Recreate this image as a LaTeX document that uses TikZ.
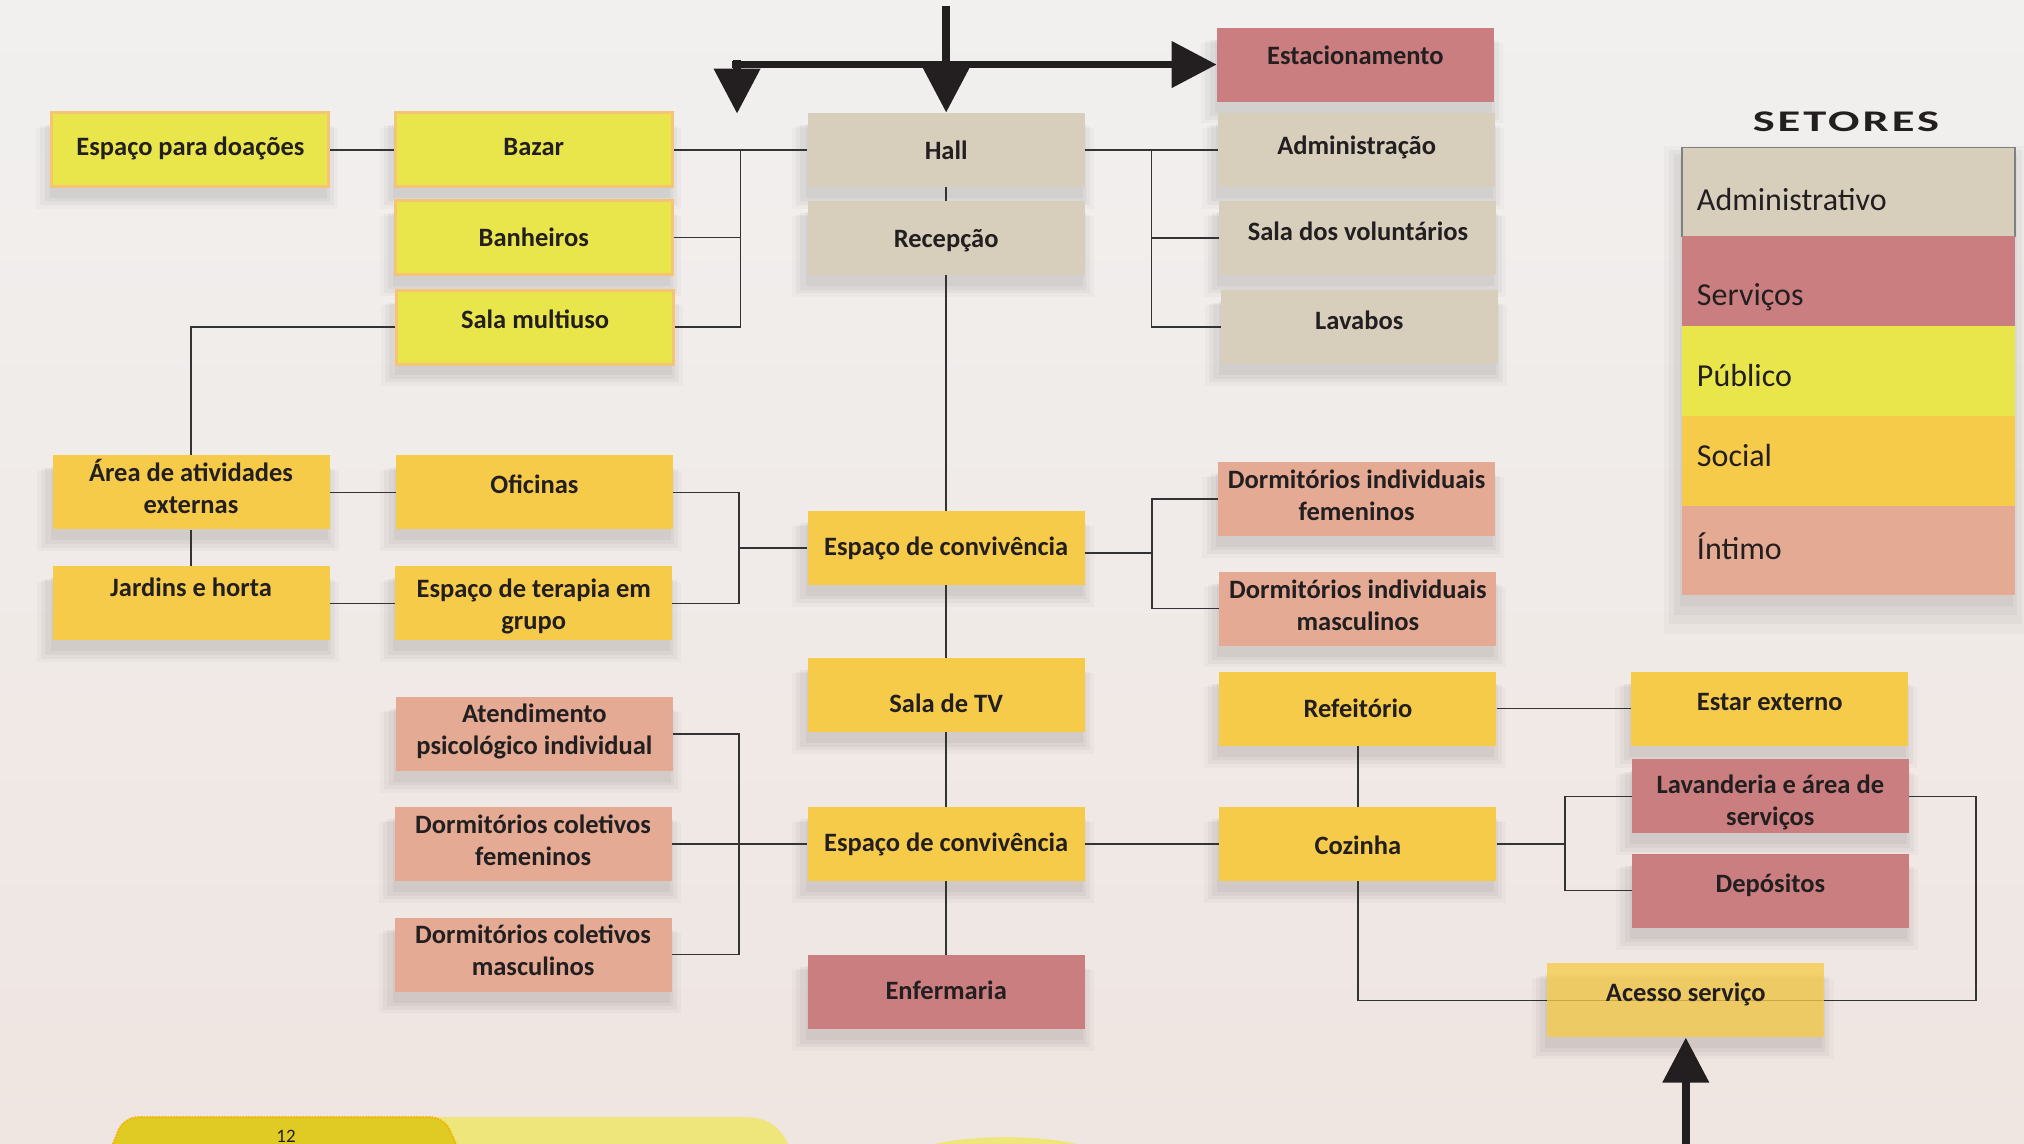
\documentclass[tikz,border=0pt]{standalone}
\usepackage{fontspec}
\setmainfont{Carlito}
\newfontfamily\titfont[FakeStretch=1.55,LetterSpace=10]{Carlito}
\usetikzlibrary{calc,arrows.meta,shadows}

\definecolor{fundoA}{HTML}{F1F0EF}
\definecolor{fundoB}{HTML}{EFE5E1}
\definecolor{corAdm}{HTML}{D7CEBC}
\definecolor{corServ}{HTML}{CB7E7F}
\definecolor{corPub}{HTML}{E9E64C}
\definecolor{corPubBorda}{HTML}{F5C477}
\definecolor{corSoc}{HTML}{F7CB4A}
\definecolor{corInt}{HTML}{E4AA94}
\definecolor{texto}{HTML}{231F20}
\definecolor{linha}{HTML}{333333}
\definecolor{corAmarB}{HTML}{E0CA24}
\definecolor{corAmarC}{HTML}{EEE67A}
\definecolor{corLaranja}{HTML}{F2B705}

\tikzset{
  sombra/.style={
    general shadow={fill=black,opacity=.025,shadow xshift=-3pt,shadow yshift=-17pt,shadow scale=1.09},
    general shadow={fill=black,opacity=.03,shadow xshift=-3pt,shadow yshift=-15pt,shadow scale=1.06},
    general shadow={fill=black,opacity=.035,shadow xshift=-3pt,shadow yshift=-13pt,shadow scale=1.03},
    general shadow={fill=black,opacity=.035,shadow xshift=-2pt,shadow yshift=-11pt}},
  caixa/.style={rectangle,minimum width=277pt,minimum height=74pt,inner sep=2pt,
    text=texto,font=\bfseries\fontsize{26.5}{32}\selectfont,align=center,sombra},
  um/.style={text height=19.6pt,text depth=1pt},
  sobe/.style={text height=19.6pt,text depth=#1},
  desce/.style={text height=#1,text depth=1pt},
  duas/.style={text height=49pt,text depth=#1},
  duasdesce/.style={text height=#1,text depth=1pt},
  administrativo/.style={fill=corAdm},
  servicos/.style={fill=corServ},
  publico/.style={fill=corPub,draw=corPubBorda,line width=3pt},
  social/.style={fill=corSoc},
  intimo/.style={fill=corInt},
  liga/.style={draw=linha,line width=1.6pt},
  haste/.style={draw=texto,line width=7.5pt,-{Triangle[width=45pt,length=45pt]}},
  legtexto/.style={anchor=base west,inner sep=0pt,text=texto,font=\fontsize{32}{34}\selectfont}
}

\begin{document}
\begin{tikzpicture}[x=1.2908pt,y=-1.2908pt]
\clip (0,0) rectangle (1568,886);
\shade[top color=fundoA,bottom color=fundoB] (0,0) rectangle (1568,886);

% legenda
\node[anchor=base,text=texto,font=\titfont\bfseries\fontsize{30}{32}\selectfont] (setores) at (1430,102) {SETORES};
\path[fill=corInt,sombra] (1303,114) rectangle (1561,461);
\filldraw[fill=corAdm,draw=gray,line width=1.2pt] (1303,114) rectangle (1561,183);
\fill[corServ] (1303,183) rectangle (1561,252.5);
\fill[corPub] (1303,252.5) rectangle (1561,322);
\fill[corSoc] (1303,322) rectangle (1561,392);
\fill[corInt] (1303,392) rectangle (1561,461);
\node[legtexto] (lAdm) at (1314.5,163.2) {Administrativo};
\node[legtexto] (lServ) at (1314.5,236.3) {Serviços};
\node[legtexto] (lPub) at (1314.5,299.6) {Público};
\node[legtexto] (lSoc) at (1314.5,361.5) {Social};
\node[legtexto] (lInt) at (1314.5,433.8) {Íntimo};

% rodape
\fill[corAmarC] (330,890) -- (330,865.5) -- (578,865.5) .. controls (597,865.5) and (607,876) .. (612,890) -- cycle;
\filldraw[fill=corAmarB,draw=corLaranja,densely dotted,line width=2pt,rounded corners=14pt] (84,895) -- (96,865.5) -- (344,865.5) -- (357,895);
\node[anchor=base,text=texto,font=\fontsize{19}{20}\selectfont] (pagina) at (221.6,885) {12};
\fill[corAmarC] (779,897) ellipse [x radius=74,y radius=16];

% salas
\node[caixa,publico,sobe=8.7pt] (doacoes) at (147.5,116) {Espaço para doações};
\node[caixa,publico,sobe=8.7pt] (bazar) at (413.5,116) {Bazar};
\node[caixa,publico,um] (banheiros) at (413.5,184) {Banheiros};
\node[caixa,publico,sobe=17.8pt] (multiuso) at (414.5,253.5) {Sala multiuso};
\node[caixa,administrativo,um] (hall) at (733,116) {Hall};
\node[caixa,administrativo,um] (recepcao) at (733,184.5) {Recepção};
\node[caixa,servicos,sobe=19pt] (estac) at (1050,50) {Estacionamento};
\node[caixa,administrativo,sobe=10pt] (admin) at (1051,116) {Administração};
\node[caixa,administrativo,sobe=15.2pt] (volunt) at (1052,184.5) {Sala dos voluntários};
\node[caixa,administrativo,sobe=15.2pt] (lavabos) at (1053,253.5) {Lavabos};
\node[caixa,social,duas=6.2pt] (area) at (148,381.5) {Área de atividades\\externas};
\node[caixa,social,sobe=17.8pt] (oficinas) at (414,381.5) {Oficinas};
\node[caixa,social,sobe=33pt] (jardins) at (148,467.5) {Jardins e horta};
\node[caixa,social,duasdesce=52.9pt] (terapia) at (413.5,467.5) {Espaço de terapia em\\grupo};
\node[caixa,social,sobe=4.9pt] (conv1) at (733,424.5) {Espaço de convivência};
\node[caixa,intimo,duas=6.2pt] (dormIF) at (1051,386.5) {Dormitórios individuais\\femeninos};
\node[caixa,intimo,duas=4.9pt] (dormIM) at (1052,471.5) {Dormitórios individuais\\masculinos};
\node[caixa,social,desce=36.4pt] (tv) at (733,538.5) {Sala de TV};
\node[caixa,social,sobe=2.3pt] (refeit) at (1052,549) {Refeitório};
\node[caixa,social,sobe=15.2pt] (estar) at (1371,549) {Estar externo};
\node[caixa,intimo,duas=7.5pt] (atend) at (414,568.5) {Atendimento\\psicológico individual};
\node[caixa,intimo,duas=6.2pt] (dormCF) at (413,654) {Dormitórios coletivos\\femeninos};
\node[caixa,social,sobe=4.9pt] (conv2) at (733,654) {Espaço de convivência};
\node[caixa,social,desce=22.2pt] (cozinha) at (1052,654) {Cozinha};
\node[caixa,servicos,duasdesce=59.3pt] (lavand) at (1371.5,617) {Lavanderia e área de\\serviços};
\node[caixa,servicos,sobe=16.5pt] (depos) at (1371.5,690) {Depósitos};
\node[caixa,intimo,duas=6.2pt] (dormCM) at (413,739.5) {Dormitórios coletivos\\masculinos};
\node[caixa,servicos,sobe=4.9pt] (enferm) at (733,768.5) {Enfermaria};

% ligacoes
\coordinate (esqA) at ($(bazar.east)!.5!(hall.west)$);
\draw[liga] (doacoes) -- (bazar);
\draw[liga] (bazar) -- (hall);
\draw[liga] (banheiros.east) -| (esqA);
\draw[liga] (multiuso.east) -| (esqA);
\coordinate (dirA) at ($(hall.east)!.5!(admin.west)$);
\draw[liga] (hall) -- (admin);
\draw[liga] (volunt.west) -| (dirA);
\draw[liga] (lavabos.west) -| (dirA);
\draw[liga] (hall) -- (recepcao);
\draw[liga] (recepcao) -- (conv1);
\draw[liga] (multiuso.west) -| (area.north);
\draw[liga] (area) -- (oficinas);
\draw[liga] (area) -- (jardins);
\draw[liga] (jardins) -- (terapia);
\coordinate (esqB) at ($(conv1.west)+(-53,0)$);
\draw[liga] (oficinas.east) -| (esqB);
\draw[liga] (terapia.east) -| (esqB);
\draw[liga] (conv1.west) -- (esqB);
\coordinate (dirB) at ($(conv1.east)+(52,4)$);
\draw[liga] (conv1.east |- dirB) -- (dirB);
\draw[liga] (dormIF.west) -| (dirB);
\draw[liga] (dormIM.west) -| (dirB);
\draw[liga] (conv1) -- (tv);
\draw[liga] (tv) -- (conv2);
\draw[liga] (conv2) -- (enferm);
\coordinate (esqC) at ($(conv2.west)+(-53,0)$);
\draw[liga] (atend.east) -| (esqC);
\draw[liga] (dormCF) -- (conv2);
\draw[liga] (dormCM.east) -| (esqC);
\draw[liga] (conv2) -- (cozinha);
\draw[liga] (refeit) -- (estar);
\draw[liga] (refeit) -- (cozinha);
\coordinate (dirC) at ($(cozinha.east)+(53,0)$);
\draw[liga] (cozinha.east) -- (dirC);
\draw[liga] (lavand.west) -| (dirC);
\draw[liga] (depos.west) -| (dirC);
\coordinate (ac) at (1306,775);
\coordinate (dirD) at (1531,775);
\draw[liga] (cozinha.south) |- (dirD) |- (lavand.east);
\node[caixa,social,sobe=16.5pt,fill opacity=.78,text opacity=1] (acesso) at (ac) {Acesso serviço};

% acessos
\coordinate (topo) at (733,5);
\draw[haste] (topo) -- (hall.north);
\coordinate (barra) at (567,50);
\draw[haste] (barra) -- (estac.west);
\coordinate (ombroE) at (571,46.5);
\coordinate (quedaE) at (571,88);
\draw[haste] (ombroE) -- (quedaE);
\coordinate (baixo) at (1306,892);
\draw[haste] (baixo) -- (acesso.south);
\end{tikzpicture}
\end{document}
